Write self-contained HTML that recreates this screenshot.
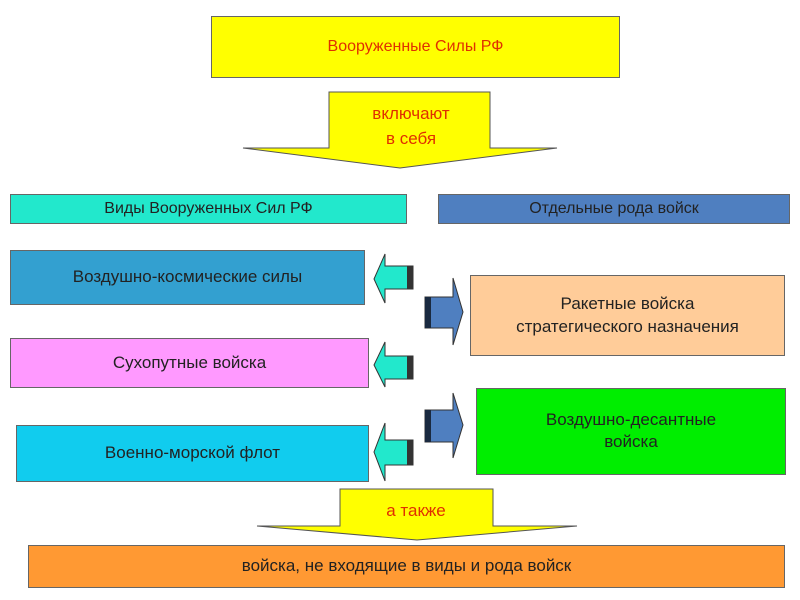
<!DOCTYPE html><html><head><style>
body{margin:0;width:800px;height:600px;background:#fff;position:relative;overflow:hidden;font-family:"Liberation Sans",sans-serif}
.b{position:absolute;box-sizing:border-box;border:1px solid #666;display:flex;align-items:center;justify-content:center;text-align:center;font-size:17px;color:#222;line-height:1.3}
svg{position:absolute;left:0;top:0}
</style></head><body>
<div class="b" style="left:211px;top:16px;width:409px;height:62px;background:#ffff00;color:#e03000;font-size:16px">Вооруженные Силы РФ</div>
<svg width="800" height="600">
<polygon points="329,92 490,92 490,148 557,148 400,168 243,148 329,148" fill="#ffff00" stroke="#555"/>
<polygon points="340,489 493,489 493,526 577,526 417,540 257,526 340,526" fill="#ffff00" stroke="#555"/>
<g fill="#22e8cc" stroke="#333">
<polygon points="413,266 385,266 385,254 374,279 385,303 385,289 413,289"/>
<polygon points="413,356 385,356 385,342 374,365 385,387 385,379 413,379"/>
<polygon points="413,440 385,440 385,423 374,452 385,481 385,465 413,465"/>
</g>
<g fill="#333"><rect x="407" y="266" width="6" height="23"/><rect x="407" y="356" width="6" height="23"/><rect x="407" y="440" width="6" height="25"/></g>
<g fill="#4f7fc0" stroke="#333">
<polygon points="425,297 453,297 453,278 463,312 453,345 453,328 425,328"/>
<polygon points="425,410 453,410 453,393 463,425 453,458 453,442 425,442"/>
</g>
<g fill="#1a2a40"><rect x="425" y="297" width="6" height="31"/><rect x="425" y="410" width="6" height="32"/></g>
<text x="411" y="119" font-size="17" fill="#e03000" text-anchor="middle" font-family="Liberation Sans">включают</text>
<text x="411" y="144" font-size="17" fill="#e03000" text-anchor="middle" font-family="Liberation Sans">в себя</text>
<text x="416" y="516" font-size="17" fill="#e03000" text-anchor="middle" font-family="Liberation Sans">а также</text>
</svg>
<div class="b" style="left:10px;top:194px;width:397px;height:30px;background:#22e8cc;font-size:16px">Виды Вооруженных Сил РФ</div>
<div class="b" style="left:438px;top:194px;width:352px;height:30px;background:#4f7fc0;font-size:16px">Отдельные рода войск</div>
<div class="b" style="left:10px;top:250px;width:355px;height:55px;background:#33a0d0">Воздушно-космические силы</div>
<div class="b" style="left:10px;top:338px;width:359px;height:50px;background:#ff99ff">Сухопутные войска</div>
<div class="b" style="left:16px;top:425px;width:353px;height:57px;background:#11ccee">Военно-морской флот</div>
<div class="b" style="left:470px;top:275px;width:315px;height:81px;background:#ffcc99">Ракетные войска<br>стратегического назначения</div>
<div class="b" style="left:476px;top:388px;width:310px;height:87px;background:#00ee00;align-items:flex-start;padding-top:20px">Воздушно-десантные<br>войска</div>
<div class="b" style="left:28px;top:545px;width:757px;height:43px;background:#ff9933">войска, не входящие в виды и рода войск</div>
</body></html>
